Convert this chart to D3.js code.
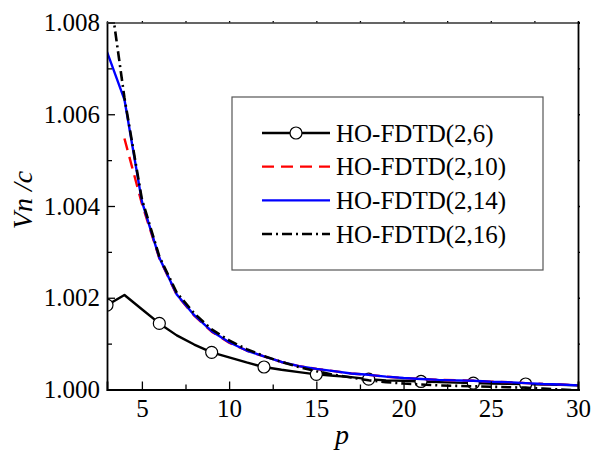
<!DOCTYPE html>
<html>
<head>
<meta charset="utf-8">
<script src="https://cdn.jsdelivr.net/npm/d3@7"></script>
</head>
<body style="margin:0">
<script>
// grid step p, values are (Vn/c - 1) * 1000
const pValues = [3, 4, 5, 6, 7, 8, 9, 10, 11, 12, 13, 14, 15, 16, 17, 18, 19, 20, 21, 22, 23, 24, 25, 26, 27, 28, 29, 30]
const ho6 = [1.84, 2.06, 1.75, 1.44, 1.18, 0.98, 0.81, 0.70, 0.59, 0.49, 0.43, 0.38, 0.33, 0.30, 0.27, 0.225, 0.20, 0.19, 0.175, 0.16, 0.15, 0.14, 0.13, 0.125, 0.12, 0.11, 0.10, 0.09]
const ho10 = [null, 5.47, 4.05, 2.86, 2.06, 1.61, 1.26, 1.02, 0.85, 0.72, 0.60, 0.51, 0.45, 0.40, 0.35, 0.32, 0.28, 0.25, 0.23, 0.21, 0.20, 0.19, 0.17, 0.16, 0.14, 0.12, 0.11, 0.09]
const ho14 = [7.36, 6.32, 4.10, 2.87, 2.07, 1.62, 1.27, 1.03, 0.85, 0.72, 0.60, 0.51, 0.45, 0.40, 0.35, 0.32, 0.28, 0.25, 0.23, 0.21, 0.20, 0.19, 0.17, 0.16, 0.14, 0.12, 0.11, 0.09]
const ho16 = [9.10, 6.36, 4.15, 2.90, 2.11, 1.66, 1.31, 1.07, 0.88, 0.73, 0.60, 0.49, 0.40, 0.32, 0.26, 0.20, 0.16, 0.13, 0.11, 0.09, 0.08, 0.07, 0.06, 0.05, 0.04, 0.02, 0.00, -0.02]
const markerP = [3, 6, 9, 12, 15, 18, 21, 24, 27]

const xTicks = [5, 10, 15, 20, 25, 30]
const xMinor = [7.5, 12.5, 17.5, 22.5, 27.5]
const yTicks = [1.000, 1.002, 1.004, 1.006, 1.008]
const yMinor = [1.001, 1.003, 1.005, 1.007]

const series = [
    { name: "HO-FDTD(2,6)", values: ho6, color: "#000", dash: null, width: 2.4, markers: true },
    { name: "HO-FDTD(2,10)", values: ho10, color: "#ff0000", dash: "12,7", width: 2.4 },
    { name: "HO-FDTD(2,14)", values: ho14, color: "#0000ff", dash: null, width: 2.4 },
    { name: "HO-FDTD(2,16)", values: ho16, color: "#000", dash: "10,4,2,4", width: 2.6 }
]

const width = 592, height = 460
const margin = { top: 22.5, right: 14, bottom: 70.5, left: 107 }
const innerW = width - margin.left - margin.right
const innerH = height - margin.top - margin.bottom

const svg = d3.select("body").append("svg")
    .attr("width", width)
    .attr("height", height)

const x = d3.scaleLinear().domain([3, 30]).range([margin.left, margin.left + innerW])
const y = d3.scaleLinear().domain([1.000, 1.008]).range([margin.top + innerH, margin.top])

svg.append("clipPath").attr("id", "plot-clip")
    .append("rect")
    .attr("x", margin.left).attr("y", margin.top)
    .attr("width", innerW).attr("height", innerH)

const plot = svg.append("g").attr("clip-path", "url(#plot-clip)")

const toPoints = (vals) => pValues.map((p, i) => ({ p: p, v: vals[i] }))
    .filter(d => d.v !== null)

const line = d3.line()
    .x(d => x(d.p))
    .y(d => y(1 + d.v / 1000))

series.forEach(s => {
    plot.append("path")
        .datum(toPoints(s.values))
        .attr("fill", "none")
        .attr("stroke", s.color)
        .attr("stroke-width", s.width)
        .attr("stroke-dasharray", s.dash)
        .attr("stroke-linejoin", "round")
        .attr("d", line)

    if (s.markers) {
        plot.selectAll(null)
            .data(toPoints(s.values).filter(d => markerP.includes(d.p)))
            .enter()
            .append("circle")
            .attr("cx", d => x(d.p))
            .attr("cy", d => y(1 + d.v / 1000))
            .attr("r", 6)
            .attr("fill", "#fff")
            .attr("stroke", "#000")
            .attr("stroke-width", 1.2)
    }
})

// axes: major ticks pointing in, minor ticks shorter
const styleAxis = (g) => {
    g.attr("font-family", "Liberation Serif").attr("font-size", 25)
    g.selectAll(".domain").attr("stroke", "#000").attr("stroke-width", 1.8)
    g.selectAll(".tick line").attr("stroke", "#000").attr("stroke-width", 1.3)
    g.selectAll(".tick text").attr("fill", "#000")
}

svg.append("g")
    .attr("transform", `translate(0,${margin.top + innerH})`)
    .call(d3.axisBottom(x).tickValues(xTicks).tickSize(-8).tickPadding(10).tickFormat(d3.format("d")))
    .call(styleAxis)
svg.append("g")
    .attr("transform", `translate(0,${margin.top + innerH})`)
    .call(d3.axisBottom(x).tickValues(xMinor).tickSize(-5).tickFormat(""))
    .call(styleAxis)
    .call(g => g.select(".domain").remove())

svg.append("g")
    .attr("transform", `translate(${margin.left},0)`)
    .call(d3.axisLeft(y).tickValues(yTicks).tickSize(-8).tickPadding(7).tickFormat(d3.format(".3f")))
    .call(styleAxis)
svg.append("g")
    .attr("transform", `translate(${margin.left},0)`)
    .call(d3.axisLeft(y).tickValues(yMinor).tickSize(-5).tickFormat(""))
    .call(styleAxis)
    .call(g => g.select(".domain").remove())

// mirrored top and right frame with tiny ticks
svg.append("g")
    .attr("transform", `translate(0,${margin.top})`)
    .call(d3.axisTop(x).tickValues(xTicks.concat(xMinor)).tickSize(1.5).tickFormat(""))
    .call(styleAxis)
    .call(g => g.selectAll(".domain").attr("stroke-width", 1.4).attr("stroke", "#333"))
svg.append("g")
    .attr("transform", `translate(${margin.left + innerW},0)`)
    .call(d3.axisRight(y).tickValues(yTicks.concat(yMinor)).tickSize(2).tickFormat(""))
    .call(styleAxis)

// axis titles
svg.append("text")
    .attr("x", x(3) + innerW / 2 - 0.5)
    .attr("y", 444)
    .attr("text-anchor", "middle")
    .attr("font-family", "Liberation Serif")
    .attr("font-size", 28)
    .attr("font-style", "italic")
    .attr("fill", "#000")
    .text("p")

svg.append("text")
    .attr("transform", `translate(32,${200}) rotate(-90)`)
    .attr("text-anchor", "middle")
    .attr("font-family", "Liberation Serif")
    .attr("font-size", 28)
    .attr("font-style", "italic")
    .attr("fill", "#000")
    .text("Vn /c")

// legend
const legend = svg.append("g")
    .attr("font-family", "Liberation Serif")
    .attr("font-size", 25)
legend.append("rect")
    .attr("x", 232).attr("y", 97)
    .attr("width", 311).attr("height", 173)
    .attr("fill", "#fff")
    .attr("stroke", "#555")
    .attr("stroke-width", 1.2)

const legendY = d3.scalePoint().domain(series.map(s => s.name)).range([133, 234])

series.forEach(s => {
    const ly = legendY(s.name)
    legend.append("line")
        .attr("x1", 262).attr("x2", 330)
        .attr("y1", ly).attr("y2", ly)
        .attr("stroke", s.color)
        .attr("stroke-width", s.width)
        .attr("stroke-dasharray", s.dash)
    if (s.markers) {
        legend.append("circle")
            .attr("cx", 296).attr("cy", ly).attr("r", 6)
            .attr("fill", "#fff").attr("stroke", "#000").attr("stroke-width", 1.2)
    }
    legend.append("text")
        .attr("x", 336).attr("y", ly + 8.5)
        .attr("fill", "#000")
        .text(s.name)
})
</script>
</body>
</html>
